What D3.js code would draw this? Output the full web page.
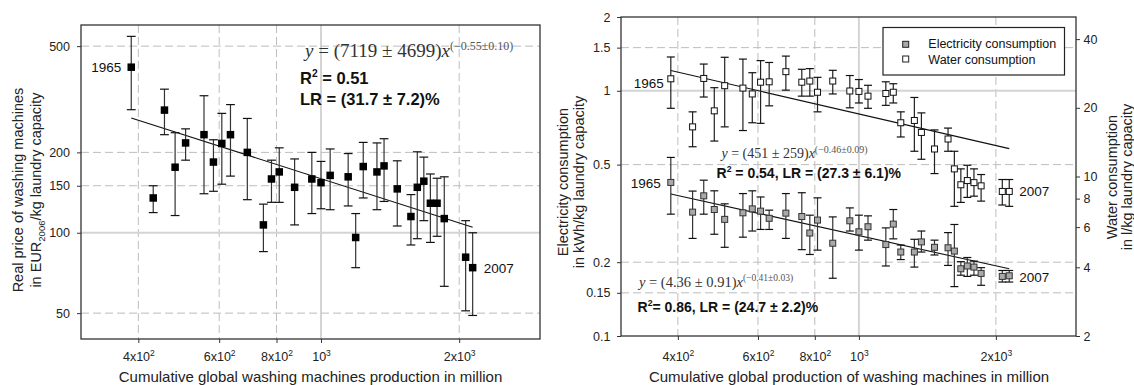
<!DOCTYPE html>
<html>
<head>
<meta charset="utf-8">
<script src="https://cdn.jsdelivr.net/npm/d3@7"></script>
<style>
  body { margin: 0; background: #fff; }
  svg { display: block; font-family: Arial, "Liberation Sans", sans-serif; }
</style>
</head>
<body>
<svg id="chart" width="1134" height="385"></svg>
<script>
// cumulative global production (million units), one point per year 1965..2007
const production = [386, 431, 456, 481, 507, 556, 583, 608, 635, 691, 749, 780, 811, 876, 955,
  1000, 1047, 1146, 1190, 1236, 1324, 1372, 1466, 1570, 1621, 1675, 1731, 1790, 1856, 2066, 2140];

// real price, EUR2006 per kg laundry capacity
const price = [417, 135, 288, 176, 217, 233, 184, 216, 233, 200, 107, 159, 169, 148, 159,
  154, 164, 162, 96, 177, 169, 178, 146, 115, 148, 156, 129, 129, 113, 81, 74];
const priceHi = [544, 150, 345, 237, 245, 326, 223, 280, 302, 268, 128, 187, 208, 189, 200,
  185, 206, 198, 118, 218, 217, 225, 186, 139, 201, 192, 166, 160, 162, 111, 100];
const priceLo = [289, 119, 233, 116, 187, 140, 143, 152, 163, 133, 85, 130, 130, 107, 118,
  123, 122, 126, 74, 135, 122, 131, 106, 90, 95, 111, 92, 97, 63, 51, 49];

// electricity, kWh per kg laundry capacity
const elec = [0.423, 0.320, 0.373, 0.328, 0.299, 0.318, 0.330, 0.323, 0.302, 0.317, 0.307, 0.263, 0.297, 0.239, 0.295,
  0.266, 0.279, 0.236, 0.286, 0.220, 0.220, 0.242, 0.230, 0.229, 0.222, 0.188, 0.193, 0.191, 0.180, 0.175, 0.176];
const elecHi = [0.535, 0.390, 0.432, 0.391, 0.346, 0.381, 0.391, 0.369, 0.326, 0.381, 0.384, 0.311, 0.366, 0.306, 0.333,
  0.311, 0.309, 0.276, 0.328, 0.235, 0.248, 0.268, 0.246, 0.264, 0.285, 0.201, 0.209, 0.202, 0.190, 0.185, 0.185];
const elecLo = [0.314, 0.250, 0.314, 0.260, 0.230, 0.253, 0.268, 0.272, 0.272, 0.250, 0.225, 0.215, 0.224, 0.172, 0.268,
  0.224, 0.246, 0.193, 0.249, 0.205, 0.191, 0.220, 0.214, 0.194, 0.159, 0.177, 0.175, 0.177, 0.161, 0.166, 0.166];

// water, litres per kg laundry capacity
const water = [26.8, 16.5, 26.9, 19.4, 25.0, 24.4, 23.0, 25.9, 26.0, 28.8, 25.9, 26.2, 23.4, 26.2, 23.7,
  23.6, 22.5, 23.1, 23.4, 17.2, 17.6, 15.6, 13.2, 14.6, 10.8, 9.2, 9.6, 9.4, 9.1, 8.6, 8.6];
const waterHi = [33.4, 19.2, 31.1, 24.5, 33.3, 32.7, 28.5, 32.2, 31.6, 33.7, 29.5, 29.7, 27.2, 29.2, 27.7,
  26.6, 25.1, 26.0, 25.5, 19.2, 22.2, 19.0, 16.0, 16.3, 12.9, 10.8, 11.2, 10.8, 10.2, 9.7, 9.7];
const waterLo = [19.9, 13.5, 22.3, 14.3, 16.5, 15.9, 17.2, 17.1, 20.4, 23.9, 22.5, 22.5, 19.2, 23.0, 20.0,
  21.0, 19.9, 20.5, 21.0, 14.9, 12.9, 11.9, 10.3, 12.9, 7.4, 7.7, 8.1, 8.2, 7.8, 7.5, 7.4];

// power-law fits y = a * x^b, as printed on the chart
const priceFit = [7119, -0.55];
const elecFit = [4.36, -0.41];
const waterFit = [451, -0.46];

const prodTicks = [400, 600, 800, 1000, 2000];
const prodTickLabels = [['4x10', '2'], ['6x10', '2'], ['8x10', '2'], ['10', '3'], ['2x10', '3']];
const priceTicks = [50, 100, 150, 200, 500];
const elecTicks = [0.1, 0.15, 0.2, 0.5, 1, 1.5, 2];
const waterTicks = [2, 4, 6, 8, 10, 20, 40];
const priceGrid = [50, 100, 150, 200, 500];
const elecGrid = [0.15, 0.2, 0.5, 1, 1.5];
const seriesNames = ['Electricity consumption', 'Water consumption'];

(() => {
  const svg = d3.select('#chart');
  const serif = '"Liberation Serif", "Times New Roman", serif';
  const sans = 'Arial, "Liberation Sans", sans-serif';
  const last = production.length - 1;

  const xL = d3.scaleLog().domain([300, 3000]).range([81, 540]);
  const yL = d3.scaleLog().domain([40, 600]).range([339, 25]);
  const xR = d3.scaleLog().domain([300, 3000]).range([621, 1076]);
  const yE = d3.scaleLog().domain([0.1, 2]).range([336, 17]);
  const yW = d3.scaleLog().domain([2, 50]).range([336, 17]);

  const styleGrid = (sel, solid) => sel
    .attr('stroke', d => solid(d) ? '#d4d4d4' : '#bdbdbd')
    .attr('stroke-width', d => solid(d) ? 2 : 1)
    .attr('stroke-dasharray', d => solid(d) ? null : '8,4');

  function grid(x, y, yGrid, solidY) {
    const [xa, xb] = x.range(), [ya, yb] = y.range();
    const g = svg.append('g');
    g.selectAll('.gx').data(prodTicks).join('line').attr('class', 'gx')
      .attr('x1', d => x(d)).attr('x2', d => x(d)).attr('y1', yb).attr('y2', ya)
      .call(styleGrid, d => d === 1000);
    g.selectAll('.gy').data(yGrid).join('line').attr('class', 'gy')
      .attr('x1', xa).attr('x2', xb).attr('y1', d => y(d)).attr('y2', d => y(d))
      .call(styleGrid, d => d === solidY);
  }

  function frame(x, y) {
    const [xa, xb] = x.range(), [ya, yb] = y.range();
    svg.append('rect').attr('x', xa).attr('y', yb).attr('width', xb - xa).attr('height', ya - yb)
      .attr('fill', 'none').attr('stroke', '#333').attr('stroke-width', 1.3);
  }

  function fitLine(x, y, fit) {
    const f = p => fit[0] * Math.pow(p, fit[1]);
    const ends = [production[0], production[last]];
    svg.append('line')
      .attr('x1', x(ends[0])).attr('y1', y(f(ends[0])))
      .attr('x2', x(ends[1])).attr('y2', y(f(ends[1])))
      .attr('stroke', '#111').attr('stroke-width', 1.1);
  }

  function series(x, y, vals, lo, hi, opt) {
    const g = svg.append('g');
    const idx = d3.range(vals.length);
    const cw = opt.cap;
    g.selectAll('.bar').data(idx).join('line').attr('class', 'bar')
      .attr('x1', i => x(production[i])).attr('x2', i => x(production[i]))
      .attr('y1', i => y(hi[i])).attr('y2', i => y(lo[i]))
      .attr('stroke', opt.bar).attr('stroke-width', 1.2);
    for (const arr of [lo, hi]) {
      g.selectAll(null).data(idx).join('line')
        .attr('x1', i => x(production[i]) - cw).attr('x2', i => x(production[i]) + cw)
        .attr('y1', i => y(arr[i])).attr('y2', i => y(arr[i]))
        .attr('stroke', '#111').attr('stroke-width', 1.2);
    }
    g.selectAll('.pt').data(idx).join('rect').attr('class', 'pt')
      .attr('x', i => x(production[i]) - opt.size / 2).attr('y', i => y(vals[i]) - opt.size / 2)
      .attr('width', opt.size).attr('height', opt.size)
      .attr('fill', opt.fill).attr('stroke', opt.stroke).attr('stroke-width', opt.sw);
  }

  function yAxis(axis, xPos, ticks, pad) {
    svg.append('g').attr('transform', `translate(${xPos},0)`)
      .call(axis.tickValues(ticks).tickSize(4).tickPadding(pad).tickFormat(d => String(d)))
      .call(g => g.select('.domain').remove())
      .attr('font-family', sans).attr('font-size', 12.5).attr('color', '#333')
      .call(g => g.selectAll('text').attr('fill', '#222'));
  }

  function xAxis(x, yPos) {
    svg.append('g').attr('transform', `translate(0,${yPos})`)
      .call(d3.axisBottom(x).tickValues(prodTicks).tickSize(4).tickFormat(''))
      .call(g => g.select('.domain').remove())
      .attr('font-family', sans).attr('font-size', 12.5).attr('color', '#333')
      .call(g => g.selectAll('.tick text').each(function (d, i) {
        const t = d3.select(this).attr('y', 361 - yPos).attr('dy', null).attr('fill', '#222');
        t.append('tspan').text(prodTickLabels[i][0]);
        t.append('tspan').attr('font-size', 8.5).attr('dy', -5).text(prodTickLabels[i][1]);
      }));
  }

  function vTitle(x, y, build) {
    const t = svg.append('text').attr('transform', `translate(${x},${y}) rotate(-90)`)
      .attr('text-anchor', 'middle').attr('dy', '0.35em').attr('font-size', 14.5).attr('fill', '#222');
    build(t);
  }

  function label(x, y, txt, anchor) {
    svg.append('text').attr('x', x).attr('y', y).attr('text-anchor', anchor)
      .attr('font-size', 13.5).attr('fill', '#111').text(txt);
  }

  function equation(x, y, coef, sup, size, supSize) {
    const t = svg.append('text').attr('x', x).attr('y', y)
      .attr('font-family', serif).attr('font-size', size).attr('fill', '#333');
    t.append('tspan').attr('font-style', 'italic').text('y');
    t.append('tspan').text(` = (${coef})`);
    t.append('tspan').attr('font-style', 'italic').text('x');
    t.append('tspan').attr('font-size', supSize).attr('fill', '#555').attr('dy', -size * 0.38).text(`(${sup})`);
  }

  function stat(x, y, size, head, rest) {
    const t = svg.append('text').attr('x', x).attr('y', y)
      .attr('font-size', size).attr('font-weight', 'bold').attr('fill', '#111');
    t.append('tspan').text('R');
    t.append('tspan').attr('font-size', size * 0.62).attr('dy', -size * 0.4).text('2');
    t.append('tspan').attr('dy', size * 0.4).text(head + rest);
  }

  // ---- left panel: price ----
  grid(xL, yL, priceGrid, 100);
  fitLine(xL, yL, priceFit);
  series(xL, yL, price, priceLo, priceHi, { cap: 4.4, size: 7.5, fill: '#000', stroke: '#000', sw: 0, bar: '#333' });
  frame(xL, yL);
  yAxis(d3.axisLeft(yL), 81, priceTicks, 7);
  xAxis(xL, 339);

  label(xL(production[0]) - 10, yL(price[0]) + 5, '1965', 'end');
  label(xL(production[last]) + 11, yL(price[last]) + 5.5, '2007', 'start');

  equation(305, 57, '7119 ± 4699', '−0.55±0.10', 19, 12);
  stat(300, 84, 16.5, '', ' = 0.51');
  svg.append('text').attr('x', 300).attr('y', 104.5).attr('font-size', 16.5).attr('font-weight', 'bold')
    .attr('fill', '#111').text('LR = (31.7 ± 7.2)%');

  vTitle(18, 190, t => t.text('Real price of washing machines'));
  vTitle(36, 190, t => {
    t.append('tspan').text('in EUR');
    t.append('tspan').attr('font-size', 9.5).attr('dy', 4).text('2006');
    t.append('tspan').attr('dy', -4).text('/kg laundry capacity');
  });
  svg.append('text').attr('x', 310.5).attr('y', 382).attr('text-anchor', 'middle')
    .attr('font-size', 15).attr('fill', '#222').text('Cumulative global washing machines production in million');

  // ---- right panel: electricity & water ----
  grid(xR, yE, elecGrid, 1);
  fitLine(xR, yW, waterFit);
  fitLine(xR, yE, elecFit);
  series(xR, yW, water, waterLo, waterHi, { cap: 4, size: 6, fill: '#fff', stroke: '#111', sw: 1, bar: '#222' });
  series(xR, yE, elec, elecLo, elecHi, { cap: 4, size: 6, fill: '#a9a9a9', stroke: '#333', sw: 1, bar: '#333' });
  frame(xR, yE);
  yAxis(d3.axisLeft(yE), 621, elecTicks, 6.5);
  yAxis(d3.axisRight(yW), 1076, waterTicks, 3.5);
  xAxis(xR, 336);

  label(xR(production[0]) - 7, yW(water[0]) + 9.5, '1965', 'end');
  label(xR(production[0]) - 10, yE(elec[0]) + 6, '1965', 'end');
  label(xR(production[last]) + 10, yW(water[last]) + 4.5, '2007', 'start');
  label(xR(production[last]) + 10, yE(elec[last]) + 6, '2007', 'start');

  equation(721.5, 158, '451 ± 259', '−0.46±0.09', 14, 10);
  stat(716.5, 178, 14, '', ' = 0.54, LR = (27.3 ± 6.1)%');
  equation(639, 286.5, '4.36 ± 0.91', '−0.41±0.03', 14.5, 9.5);
  stat(637.5, 311.5, 14, '', '= 0.86, LR = (24.7 ± 2.2)%');

  // legend
  const lg = svg.append('g');
  lg.append('rect').attr('x', 883).attr('y', 27.5).attr('width', 181.5).attr('height', 47.5)
    .attr('fill', '#fff').attr('stroke', '#222').attr('stroke-width', 1.2);
  lg.selectAll('.key').data(seriesNames).join('rect').attr('class', 'key')
    .attr('x', 902.7).attr('y', (d, i) => 41.3 + i * 14.7).attr('width', 6).attr('height', 6)
    .attr('fill', (d, i) => i ? '#fff' : '#a9a9a9').attr('stroke', '#222').attr('stroke-width', 1);
  lg.selectAll('.ktxt').data(seriesNames).join('text').attr('class', 'ktxt')
    .attr('x', 928.3).attr('y', (d, i) => 48.3 + i * 15.5)
    .attr('font-size', 12.5).attr('fill', '#111').text(d => d);

  vTitle(563, 182, t => t.text('Electricity consumption'));
  vTitle(579, 182, t => t.text('in kWh/kg laundry capacity'));
  vTitle(1112, 177, t => t.text('Water consumption'));
  vTitle(1127, 177, t => t.text('in l/kg laundry capacity'));
  svg.append('text').attr('x', 849).attr('y', 382).attr('text-anchor', 'middle')
    .attr('font-size', 15).attr('fill', '#222').text('Cumulative global production of washing machines in million');
})();
</script>
</body>
</html>
